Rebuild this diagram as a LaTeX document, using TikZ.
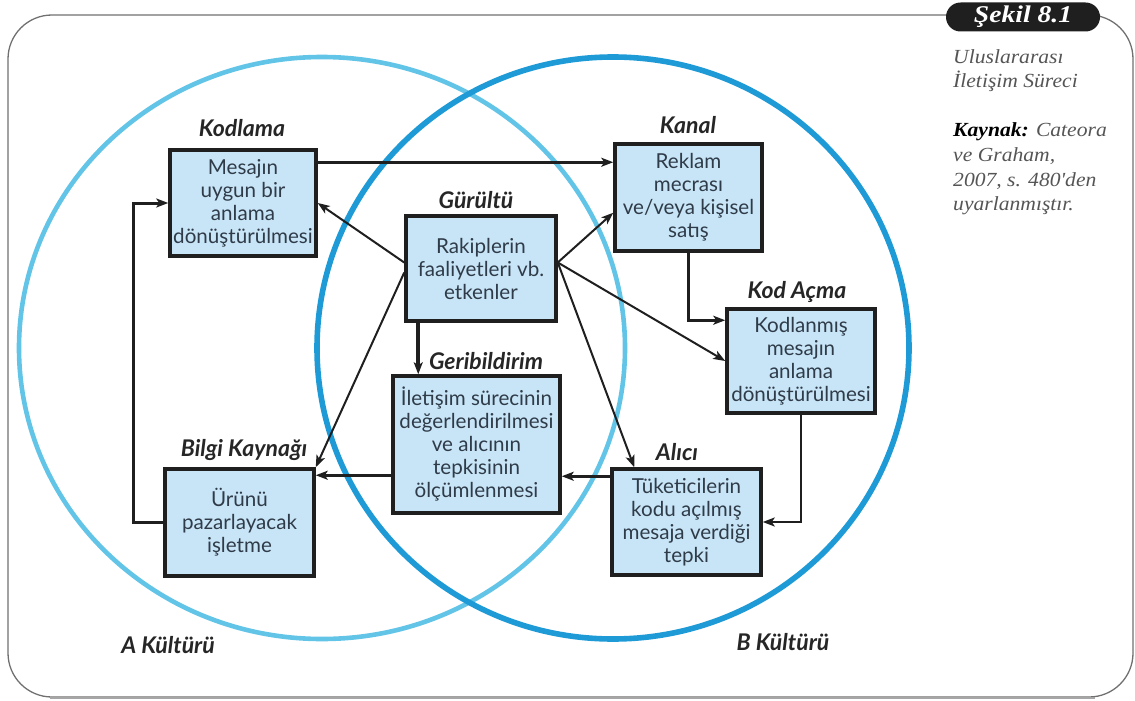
\documentclass[tikz,border=0pt]{standalone}
\usepackage{fontspec}
\setmainfont{Lato}
\newfontfamily\notefont[FakeStretch=1.08]{Liberation Serif}
\newfontfamily\tagfont[FakeStretch=1.15]{Liberation Serif}
\usetikzlibrary{arrows.meta,calc}

\definecolor{boxfill}{HTML}{C8E5F7}
\definecolor{boxtext}{HTML}{2F3B48}
\definecolor{ringA}{HTML}{62C4E6}
\definecolor{ringB}{HTML}{1E9AD6}
\definecolor{framegray}{HTML}{707070}
\definecolor{notegray}{HTML}{555555}

\tikzset{
  stepbox/.style={draw=black!88, line width=3.5pt, fill=boxfill, text=boxtext,
    align=center, inner sep=0pt, font=\fontsize{20.6}{23}\selectfont},
  tag/.style={anchor=base, inner sep=0pt, text=black!85,
    font=\fontsize{23}{26}\selectfont\bfseries\itshape},
  flow/.style={draw=black!88, line width=2.8pt,
    -{Stealth[length=12pt,width=9pt,inset=3pt]}},
  noise/.style={draw=black!88, line width=2pt,
    -{Stealth[length=12pt,width=9pt,inset=3pt]}},
}

\begin{document}
\begin{tikzpicture}[x=1pt,y=-1pt]
\useasboundingbox (0,0) rectangle (1135,701);

% outer frame
\draw[framegray, line width=1.3pt, rounded corners=44]
  (950,15) -- (8,15) -- (8,697) -- (1133,697) -- (1133,15) -- (1100,15);
\draw[black!35, line width=2pt] (50,697.5) -- (1095,697.5);

% figure tag
\node[fill=black!88, rounded corners=14.5pt, minimum width=154, minimum height=29,
  inner sep=0pt, text=white, font=\tagfont\fontsize{24}{26}\selectfont\bfseries\itshape]
  (sekil) at (1023,17) {Şekil 8.1};

% caption
\node[anchor=north west, align=left, inner sep=0pt, text=notegray,
  font=\notefont\fontsize{20}{24.6}\selectfont\itshape] (caption) at (953,49)
  {Uluslararası\\İletişim Süreci\\[24.6pt]
   {\color{black}\bfseries Kaynak:} Cateora\\ve Graham,\\2007, s. 480'den\\uyarlanmıştır.};

% the two cultures
\draw[ringA, line width=4.6pt] (322,348) ellipse [x radius=303, y radius=291];
\draw[ringB, line width=5.6pt] (613,348) ellipse [x radius=296, y radius=291];

% process steps
\node[stepbox, minimum width=146, minimum height=106] (kod) at (243,203)
  {Mesajın\\uygun bir\\anlama\\dönüştürülmesi};
\node[stepbox, minimum width=147, minimum height=107] (kanal) at (688.5,197.5)
  {Reklam\\mecrası\\ve/veya kişisel\\satış};
\node[stepbox, minimum width=150, minimum height=105] (gur) at (481,268.5)
  {Rakiplerin\\faaliyetleri vb.\\etkenler};
\node[stepbox, minimum width=148, minimum height=104] (acma) at (801,361)
  {Kodlanmış\\mesajın\\anlama\\dönüştürülmesi};
\node[stepbox, minimum width=167, minimum height=137] (geri) at (476.5,444.5)
  {İletişim sürecinin\\değerlendirilmesi\\ve alıcının\\tepkisinin\\ölçümlenmesi};
\node[stepbox, minimum width=149, minimum height=107] (bilgi) at (239.5,522.5)
  {Ürünü\\pazarlayacak\\işletme};
\node[stepbox, minimum width=149, minimum height=106] (alici) at (686.5,522)
  {Tüketicilerin\\kodu açılmış\\mesaja verdiği\\tepki};

% step titles
\node[tag] (tkod)   at (242,136)   {Kodlama};
\node[tag] (tkanal) at (688,133)   {Kanal};
\node[tag] (tgur)   at (476,208)   {Gürültü};
\node[tag] (tacma)  at (797,298)   {Kod Açma};
\node[tag] (tgeri)  at (486,369)   {Geribildirim};
\node[tag] (tbilgi) at (244,456)   {Bilgi Kaynağı};
\node[tag] (talici) at (677,460)   {Alıcı};
\node[tag] (tA)     at (168,653)   {A Kültürü};
\node[tag] (tB)     at (783,650)   {B Kültürü};

% helper points on the boxes
\coordinate (kodR)  at ($(kod.north east)+(0,14)$);
\coordinate (acmaL) at ($(acma.north west)+(0,13)$);
\coordinate (aliL)  at ($(alici.north west)+(0,9)$);
\coordinate (bilR)  at ($(bilgi.north east)+(0,8)$);
\coordinate (gurL1) at ($(gur.west)+(0,-6)$);
\coordinate (gurL2) at ($(gur.west)+(0,4)$);
\coordinate (gurR)  at ($(gur.east)+(0,-6)$);
\coordinate (gurB)  at ($(gur.south west)+(14,0)$);
\coordinate (kanIn) at ($(kanal.south west)+(0,-40)$);
\coordinate (aliIn) at ($(alici.north west)+(24,0)$);

% main message loop
\draw[flow] (kodR) -- (kodR -| kanal.west);
\draw[flow] (kanal.south) |- (acmaL);
\draw[flow] (acma.south) |- (alici.east);
\draw[flow] (aliL) -- (aliL -| geri.east);
\draw[flow] (geri.west |- bilR) -- (bilR);
\draw[flow, line width=3pt] (bilgi.west) -- ++(-30,0) |- (kod.west);

% noise influences
\draw[noise] (gurL1) -- (kod.east);
\draw[noise] (gurL2) -- (bilgi.north east);
\draw[flow, line width=3.8pt] (gurB) -- (gurB |- geri.north);
\draw[noise] (gurR) -- (kanIn);
\draw[noise] (gurR) -- (acma.west);
\draw[noise] (gurR) -- (aliIn);
\end{tikzpicture}
\end{document}
